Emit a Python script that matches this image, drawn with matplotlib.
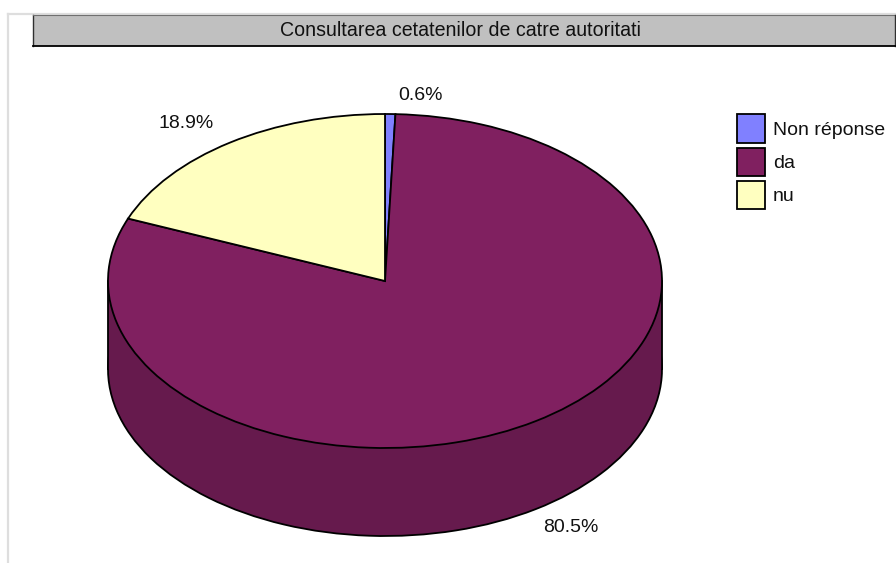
import matplotlib
matplotlib.use("Agg")
import matplotlib.pyplot as plt
from matplotlib.patches import Rectangle
from matplotlib.lines import Line2D

plt.rcParams['font.family'] = ['Liberation Sans', 'DejaVu Sans']

title = "Consultarea cetatenilor de catre autoritati"
categories = ["Non réponse", "da", "nu"]
values = [0.6, 80.5, 18.9]
labels = ["0.6%", "80.5%", "18.9%"]
colors = ["#8080ff", "#802060", "#ffffc0"]
side_color = "#661a4d"

W, H = 896, 563
cx, cy, rx, ry, depth_px = 385, 281, 277, 167, 88
depth = depth_px / ry
lw = 1.3
fs = 14

fig = plt.figure(figsize=(W / 100, H / 100), dpi=100, facecolor="white")
ax = fig.add_axes([0, 0, 1, 1])

# Extruded side: lower pie, then a band up to the top face
ax.pie(values, colors=[side_color] * 3, startangle=90, counterclock=False,
       center=(0, -depth), radius=1,
       wedgeprops=dict(edgecolor="black", linewidth=lw))
ax.add_patch(Rectangle((-1, -depth), 2, depth, facecolor=side_color, edgecolor="none", zorder=2))
ax.plot([-1, -1], [0, -depth], color="black", lw=lw, zorder=3)
ax.plot([1, 1], [0, -depth], color="black", lw=lw, zorder=3)
# Top face
wedges, _ = ax.pie(values, colors=colors, startangle=90, counterclock=False,
                   center=(0, 0), radius=1,
                   wedgeprops=dict(edgecolor="black", linewidth=lw, zorder=4))
ax.set_aspect("auto")
ax.set_xlim((0 - cx) / rx, (W - cx) / rx)
ax.set_ylim((cy - H) / ry, cy / ry)
ax.axis("off")


def fx(x):
    return x / W


def fy(y):
    return 1 - y / H


# Outer light-grey frame
fig.add_artist(Line2D([fx(8), fx(8)], [fy(14), fy(563)], color="#dedede", lw=1.6))
fig.add_artist(Line2D([fx(8), fx(896)], [fy(14), fy(14)], color="#dedede", lw=1.6))

# Title box
fig.add_artist(Rectangle((fx(33), fy(46)), (895 - 33) / W, (46 - 15) / H,
                         transform=fig.transFigure, facecolor="#c0c0c0",
                         edgecolor="none"))
fig.add_artist(Line2D([fx(33), fx(33)], [fy(15), fy(46)], color="#303030", lw=1.0))
fig.add_artist(Line2D([fx(33), fx(895)], [fy(15), fy(15)], color="#707070", lw=0.8))
fig.add_artist(Line2D([fx(895), fx(895)], [fy(15), fy(46)], color="#303030", lw=1.0))
fig.add_artist(Line2D([fx(33), fx(895)], [fy(46), fy(46)], color="black", lw=1.3))
fig.text(fx(460), fy(31), title, ha="center", va="center", fontsize=14.1, color="#111111")

# Slice labels
label_pos = [(420, 95), (571, 527), (186, 123)]
for lab, (x, y) in zip(labels, label_pos):
    fig.text(fx(x), fy(y), lab, ha="center", va="center", fontsize=fs, color="#111111")

# Legend
leg = fig.legend(wedges, categories, loc="upper left",
                 bbox_to_anchor=(fx(737), fy(114.5)), frameon=False,
                 fontsize=fs, borderpad=0, borderaxespad=0,
                 handlelength=1.44, handleheight=1.84, handletextpad=0.41,
                 labelspacing=0.26, labelcolor="#111111")
for h in leg.legend_handles:
    h.set_edgecolor("black")
    h.set_linewidth(1.3)

fig.savefig("out.png", dpi=100, facecolor="white")
